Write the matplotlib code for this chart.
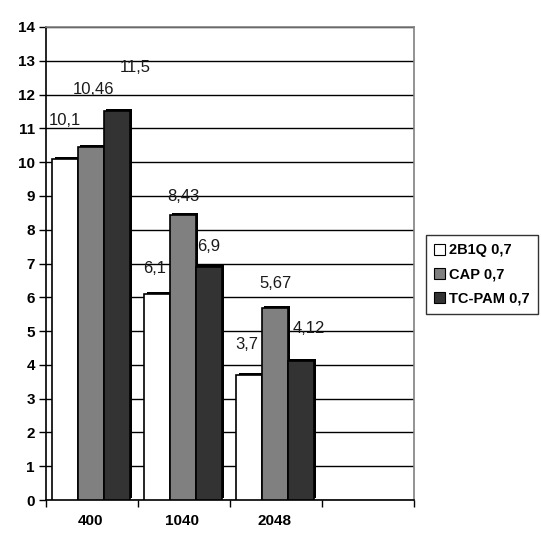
import matplotlib
matplotlib.use("Agg")
import matplotlib.pyplot as plt
import matplotlib.patheffects as pe
import numpy as np

categories = ["400", "1040", "2048", ""]
series_names = ["2B1Q 0,7", "CAP 0,7", "TC-PAM 0,7"]
values = {
    "2B1Q 0,7": [10.1, 6.1, 3.7],
    "CAP 0,7": [10.46, 8.43, 5.67],
    "TC-PAM 0,7": [11.5, 6.9, 4.12],
}
labels = {
    "2B1Q 0,7": ["10,1", "6,1", "3,7"],
    "CAP 0,7": ["10,46", "8,43", "5,67"],
    "TC-PAM 0,7": ["11,5", "6,9", "4,12"],
}
colors = ["#ffffff", "#808080", "#333333"]
# label offsets (pixels) relative to the bar top centre
label_offsets = {
    "2B1Q 0,7": [(0, 38), (-3, 25), (-3, 30)],
    "CAP 0,7": [(2, 57), (0, 19), (0, 25)],
    "TC-PAM 0,7": [(18, 44), (0, 20), (8, 32)],
}

plt.rcParams['font.family'] = ['Liberation Sans', 'DejaVu Sans']

fig = plt.figure(figsize=(5.41, 5.48), dpi=100)
W, H = 541, 548
ax = fig.add_axes([46 / W, 1 - 500 / H, (414 - 46) / W, (500 - 27) / H])

bar_w = 0.28
start = 0.07
n_data = len(values[series_names[0]])
x = np.arange(n_data)
handles = []
for j, name in enumerate(series_names):
    xs = x + start + j * bar_w
    bars = ax.bar(xs, values[name], width=bar_w, align='edge',
                  color=colors[j], edgecolor='black', linewidth=1.2,
                  zorder=3, label=name)
    for b in bars:
        b.set_path_effects([pe.SimplePatchShadow(offset=(1.5, 1.5),
                                                 shadow_rgbFace='black', alpha=1.0),
                            pe.Normal()])
    handles.append(bars)
    for i, b in enumerate(bars):
        dx, dy = label_offsets[name][i]
        ax.annotate(labels[name][i],
                    (b.get_x() + b.get_width() / 2, b.get_height()),
                    xytext=(dx, dy), textcoords='offset pixels',
                    ha='center', va='center', fontsize=12, color='#1a1a1a',
                    zorder=5)

ax.set_xlim(0, len(categories))
ax.set_ylim(0, 14)
ax.set_yticks(np.arange(0, 15, 1))
ax.yaxis.grid(True, color='black', linewidth=1.0, zorder=1)
ax.set_axisbelow(True)

ax.set_xticks(np.arange(0, len(categories) + 1))
ax.set_xticklabels([])
ax.set_xticks(np.arange(len(categories)) + 0.48, minor=True)
ax.set_xticklabels(categories, minor=True, fontweight='bold', fontsize=11)
ax.tick_params(axis='x', which='minor', length=0, pad=10)
ax.tick_params(axis='x', which='major', length=5, width=1, color='black', direction='out')
ax.tick_params(axis='y', length=5, width=1, direction='out', pad=3)
for t in ax.get_yticklabels():
    t.set_fontweight('bold')
    t.set_fontsize(11)

ax.spines['top'].set_color('#808080')
ax.spines['right'].set_color('#808080')
ax.spines['left'].set_color('black')
ax.spines['bottom'].set_color('black')
for s in ax.spines.values():
    s.set_linewidth(1.2)

leg = fig.legend(handles=handles, labels=series_names,
                 loc='center left', bbox_to_anchor=(426 / W, 1 - 274.5 / H),
                 frameon=True, fancybox=False, edgecolor='black',
                 prop={'weight': 'bold', 'size': 10.5},
                 handlelength=0.75, handleheight=0.75, handletextpad=0.3,
                 labelspacing=0.7, borderpad=0.55, borderaxespad=0)
leg.get_frame().set_linewidth(1.0)
for h in leg.legend_handles:
    h.set_path_effects([])
    h.set_linewidth(0.8)

fig.savefig("out.png", dpi=100)
